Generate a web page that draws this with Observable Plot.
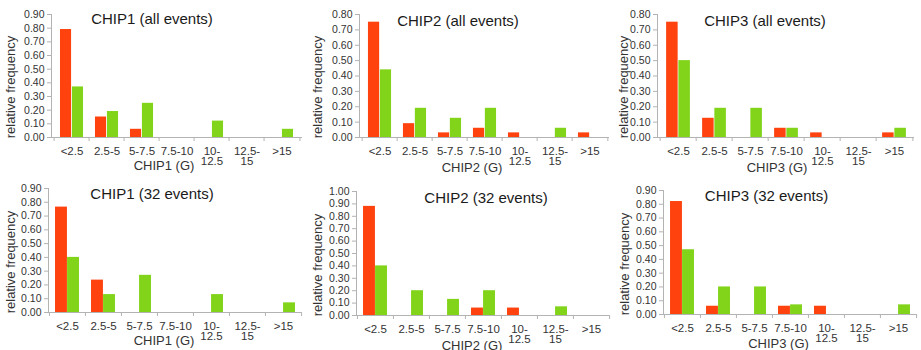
<!DOCTYPE html>
<html>
<head>
<meta charset="utf-8">
<script src="https://cdn.jsdelivr.net/npm/d3@7"></script>
<script src="https://cdn.jsdelivr.net/npm/@observablehq/plot@0.6"></script>
<style>
  body { margin: 0; background: #fff; font-family: "Liberation Sans", Arial, sans-serif; }
  #chart { position: relative; width: 921px; height: 350px; overflow: hidden; background: #fff; }
  .panel { position: absolute; }
  .panel svg text { fill: #333; }
  .lbl { position: absolute; white-space: nowrap; line-height: 1; }
  .title { font-size: 15px; color: #1a1a1a; transform: translateX(-50%); }
  .xtitle { font-size: 13px; color: #333; transform: translateX(-50%); }
  .ytitle { font-size: 13px; color: #333; transform: translate(-50%, -50%) rotate(-90deg); }
</style>
</head>
<body>
<div id="chart"></div>
<script>
// ---- data ----
const categories = ["<2.5", "2.5-5", "5-7.5", "7.5-10", "10-12.5", "12.5-15", ">15"];
const categoryLabels = ["<2.5", "2.5-5", "5-7.5", "7.5-10", "10-\n12.5", "12.5-\n15", ">15"];
const seriesNames = ["seriesA", "seriesB"];

const chip1AllA = [0.79, 0.15, 0.06, 0, 0, 0, 0];
const chip1AllB = [0.37, 0.19, 0.25, 0, 0.12, 0, 0.06];
const chip2AllA = [0.75, 0.09, 0.03, 0.06, 0.03, 0, 0.03];
const chip2AllB = [0.44, 0.19, 0.125, 0.19, 0, 0.06, 0];
const chip3AllA = [0.75, 0.125, 0, 0.06, 0.03, 0, 0.03];
const chip3AllB = [0.50, 0.19, 0.19, 0.06, 0, 0, 0.06];
const chip1E32A = [0.765, 0.235, 0, 0, 0, 0, 0];
const chip1E32B = [0.40, 0.13, 0.27, 0, 0.13, 0, 0.07];
const chip2E32A = [0.88, 0, 0, 0.06, 0.06, 0, 0];
const chip2E32B = [0.40, 0.20, 0.13, 0.20, 0, 0.07, 0];
const chip3E32A = [0.82, 0.06, 0, 0.06, 0.06, 0, 0];
const chip3E32B = [0.47, 0.20, 0.20, 0.07, 0, 0, 0.07];

const titles = ["CHIP1 (all events)", "CHIP2 (all events)", "CHIP3 (all events)",
                "CHIP1 (32 events)", "CHIP2 (32 events)", "CHIP3 (32 events)"];
const xTitles = ["CHIP1 (G)", "CHIP2 (G)", "CHIP3 (G)", "CHIP1 (G)", "CHIP2 (G)", "CHIP3 (G)"];
const yTitle = "relative frequency";
const yMaxes = [0.9, 0.8, 0.8, 0.9, 1.0, 0.9];

const seriesA = [chip1AllA, chip2AllA, chip3AllA, chip1E32A, chip2E32A, chip3E32A];
const seriesB = [chip1AllB, chip2AllB, chip3AllB, chip1E32B, chip2E32B, chip3E32B];

// ---- layout (positions only) ----
const layout = [
  {left: 0,   top: 0,   width: 305, ml: 51, mr: 3, mt: 14, mb: 38, tx: 152, ty: 11.3, xx: 164, xy: 159.3, yx: 9.5,  yy: 87},
  {left: 305, top: 0,   width: 307, ml: 54, mr: 3, mt: 14, mb: 38, tx: 458, ty: 13,   xx: 472, xy: 160.6, yx: 316.5, yy: 87},
  {left: 612, top: 0,   width: 309, ml: 45, mr: 7, mt: 14, mb: 38, tx: 765, ty: 13,   xx: 777, xy: 160.6, yx: 623, yy: 87},
  {left: 0,   top: 175, width: 305, ml: 48, mr: 4, mt: 13, mb: 38, tx: 152, ty: 186.3, xx: 164, xy: 334.3, yx: 9.5, yy: 262},
  {left: 305, top: 175, width: 307, ml: 51, mr: 3, mt: 16, mb: 35, tx: 486, ty: 189.7, xx: 472, xy: 339, yx: 316.5, yy: 264.5},
  {left: 612, top: 175, width: 309, ml: 51, mr: 5, mt: 15, mb: 36, tx: 766.5, ty: 188, xx: 778.5, xy: 336.6, yx: 623.5, yy: 263.5}
];
const H = 175;
const colorA = "#ff420e";
const colorB = "#81d41a";
const axisColor = "#b3b3b3";

const chart = document.getElementById("chart");

layout.forEach((L, p) => {
  const step = (L.width - L.ml - L.mr) / categories.length;
  const plotH = H - L.mt - L.mb;
  const dataA = categories.map((c, i) => ({category: c, series: seriesNames[0], value: seriesA[p][i]})).filter(d => d.value > 0);
  const dataB = categories.map((c, i) => ({category: c, series: seriesNames[1], value: seriesB[p][i]})).filter(d => d.value > 0);
  const yTicks = d3.range(0, Math.round(yMaxes[p] * 10) + 1).map(k => k / 10);

  const svg = Plot.plot({
    width: L.width,
    height: H,
    marginLeft: L.ml,
    marginRight: L.mr,
    marginTop: L.mt,
    marginBottom: L.mb,
    style: {color: axisColor, fontFamily: "Liberation Sans, Arial, sans-serif", fontSize: "10.5px", background: "transparent", overflow: "visible"},
    x: {domain: categories, padding: 0, axis: null},
    y: {domain: [0, yMaxes[p]], ticks: yTicks, tickFormat: d3.format(".2f"), tickSize: 4, tickPadding: 3, label: null, line: true},
    marks: [
      Plot.barY(dataA, {x: "category", y: "value", fill: colorA, insetLeft: step / 6, insetRight: step / 2}),
      Plot.barY(dataB, {x: "category", y: "value", fill: colorB, insetLeft: step / 2, insetRight: step / 6}),
      Plot.ruleY([0], {stroke: axisColor}),
      Plot.ruleX(categories, {x: d => d, dx: -step / 2, insetTop: plotH, insetBottom: -4, stroke: axisColor}),
      Plot.ruleX([categories[categories.length - 1]], {x: d => d, dx: step / 2, insetTop: plotH, insetBottom: -4, stroke: axisColor}),
      Plot.text(categories, {x: d => d, text: (d, i) => categoryLabels[i], frameAnchor: "bottom", lineAnchor: "top", dy: 10, fontSize: 11.5, lineHeight: 0.9, fill: "#333"})
    ]
  });
  const div = document.createElement("div");
  div.className = "panel";
  div.style.left = L.left + "px";
  div.style.top = L.top + "px";
  div.appendChild(svg);
  chart.appendChild(div);

  const addLabel = (cls, text, x, y) => {
    const el = document.createElement("div");
    el.className = "lbl " + cls;
    el.textContent = text;
    el.style.left = x + "px";
    el.style.top = y + "px";
    chart.appendChild(el);
  };
  addLabel("title", titles[p], L.tx, L.ty);
  addLabel("xtitle", xTitles[p], L.xx, L.xy);
  addLabel("ytitle", yTitle, L.yx, L.yy);
});
</script>
</body>
</html>
